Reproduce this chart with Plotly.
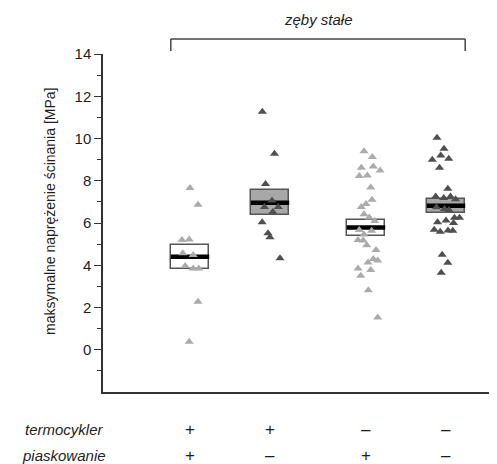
import plotly.graph_objects as go

# ---- data ----
groups = ["TC+ / P+", "TC+ / P-", "TC- / P+", "TC- / P-"]
termocykler = ["+", "+", "–", "–"]
piaskowanie = ["+", "–", "+", "–"]

g1_values = [7.66, 6.86, 5.19, 5.22, 4.57, 4.49, 3.97, 3.85, 3.85, 2.27, 0.38]
g1_jitter = [0.0, 0.10, -0.10, -0.01, -0.09, 0.04, -0.06, 0.04, 0.11, 0.10, -0.01]

g2_values = [11.27, 9.28, 7.85, 7.07, 6.76, 6.76, 6.52, 6.04, 5.52, 5.32, 4.33]
g2_jitter = [-0.096, 0.056, -0.056, 0.025, -0.069, 0.103, 0.035, -0.098, -0.025, 0.0, 0.125]

g3_values = [9.40, 9.13, 8.62, 8.67, 8.49, 8.23, 8.25, 7.68, 7.10, 6.90, 6.76, 6.42, 6.26, 6.10,
             5.67, 5.63, 5.46, 5.19, 5.17, 4.95, 4.72, 4.29, 4.22, 4.13, 3.85, 3.77, 3.50, 2.82, 1.53]
g3_jitter = [-0.025, 0.079, -0.059, 0.091, 0.175, -0.084, 0.016, 0.059, 0.075, 0.0, -0.059, -0.025,
             0.041, 0.109, -0.084, 0.071, -0.025, -0.10, -0.034, 0.009, 0.125, 0.091, 0.146, 0.025,
             -0.10, 0.059, -0.066, 0.029, 0.146]

g4_values = [10.04, 9.52, 9.20, 9.00, 9.04, 8.61, 7.62, 7.26, 7.18, 7.26, 7.12, 6.74, 6.66, 6.62,
             6.25, 6.25, 6.12, 6.04, 6.00, 5.68, 5.58, 5.65, 5.63, 4.50, 4.12, 3.64]
g4_jitter = [-0.1125, -0.025, -0.066, -0.171, 0.034, -0.081, 0.023, -0.129, -0.029, 0.056, 0.119,
             -0.119, -0.019, 0.038, 0.106, 0.169, 0.0, -0.106, 0.094, -0.147, -0.072, 0.025, 0.085,
             -0.048, 0.023, -0.06]

box_low = [3.82, 6.40, 5.39, 6.48]
box_high = [4.98, 7.54, 6.16, 7.13]
box_median = [4.40, 6.96, 5.79, 6.82]

# ---- layout / style ----
positions = [1.0, 2.0, 3.2, 4.2]
box_width = 0.48
point_colors = ["#ababab", "#4f4f4f", "#ababab", "#4f4f4f"]
box_fills = ["#ffffff", "#a8a8a8", "#ffffff", "#a8a8a8"]

values = [g1_values, g2_values, g3_values, g4_values]
jitters = [g1_jitter, g2_jitter, g3_jitter, g4_jitter]

fig = go.Figure()

# boxes
fig.add_trace(go.Bar(
    x=positions,
    y=[h - l for h, l in zip(box_high, box_low)],
    base=box_low,
    width=box_width,
    marker=dict(color=box_fills, line=dict(color="#555555", width=1.5)),
    showlegend=False, hoverinfo="skip",
))

# median lines
mx, my = [], []
for p, m in zip(positions, box_median):
    mx += [p - box_width / 2, p + box_width / 2, None]
    my += [m, m, None]
fig.add_trace(go.Scatter(x=mx, y=my, mode="lines",
                         line=dict(color="#000000", width=4.5),
                         showlegend=False, hoverinfo="skip"))

# points
for p, vals, jit, col in zip(positions, values, jitters, point_colors):
    fig.add_trace(go.Scatter(
        x=[p + j for j in jit], y=vals, mode="markers",
        marker=dict(symbol="triangle-up", size=8, color=col, line=dict(width=0)),
        showlegend=False,
    ))

font = "Liberation Sans, Arial, sans-serif"
txt = "#1e1e1e"

# page body has an 8px margin: figure sized so it fits the 497x464 window
fig.update_layout(
    width=489, height=456,
    margin=dict(l=95, r=0, t=46, b=72),
    paper_bgcolor="white", plot_bgcolor="white",
    font=dict(family=font, size=14, color=txt),
    bargap=0,
)

fig.update_xaxes(
    range=[-0.0875, 4.8375], showgrid=False, zeroline=False,
    showline=True, linecolor="#333333", linewidth=1.5,
    showticklabels=False, ticks="",
)
fig.update_yaxes(
    range=[-2, 14], showgrid=False, zeroline=False,
    showline=True, linecolor="#333333", linewidth=1.5,
    tickvals=[0, 2, 4, 6, 8, 10, 12, 14], ticks="outside", ticklen=7,
    tickcolor="#333333", tickwidth=1.2,
    tickfont=dict(size=15, color=txt),
    minor=dict(tickvals=[-1, 1, 3, 5, 7, 9, 11, 13], ticks="outside", ticklen=4,
               tickcolor="#333333", tickwidth=1.2),
)

# y title
fig.add_annotation(text="maksymalne naprężenie ścinania [MPa]", textangle=-90,
                   xref="paper", yref="paper", x=-0.135, y=0.535,
                   xanchor="center", yanchor="middle",
                   showarrow=False, font=dict(size=14, color=txt))

# bracket + title
left = positions[0] - box_width / 2
right = positions[-1] + box_width / 2
for x0, y0, x1, y1 in [(left, 1.0444, right, 1.0444), (left, 1.0089, left, 1.0444),
                       (right, 1.0089, right, 1.0444)]:
    fig.add_shape(type="line", xref="x", yref="paper", x0=x0, y0=y0, x1=x1, y1=y1,
                  line=dict(color="#444444", width=1.5))
fig.add_annotation(text="<i>zęby stałe</i>", xref="x", yref="paper",
                   x=(left + right) / 2, y=1.101, xanchor="center", yanchor="middle",
                   showarrow=False, font=dict(size=15, color=txt))

# factor rows
row1_y = -0.112
row2_y = -0.189
fig.add_annotation(text="<i>termocykler</i>", xref="paper", yref="paper",
                   x=0.008, y=row1_y, xanchor="right", yanchor="middle", showarrow=False,
                   font=dict(size=15, color=txt))
fig.add_annotation(text="<i>piaskowanie</i>", xref="paper", yref="paper",
                   x=0.012, y=row2_y, xanchor="right", yanchor="middle", showarrow=False,
                   font=dict(size=15, color=txt))
for p, t, s in zip(positions, termocykler, piaskowanie):
    fig.add_annotation(text=t, xref="x", yref="paper", x=p, y=row1_y,
                       xanchor="center", yanchor="middle",
                       showarrow=False, font=dict(size=17, color=txt))
    fig.add_annotation(text=s, xref="x", yref="paper", x=p, y=row2_y,
                       xanchor="center", yanchor="middle",
                       showarrow=False, font=dict(size=17, color=txt))

fig.write_html("out.html")
